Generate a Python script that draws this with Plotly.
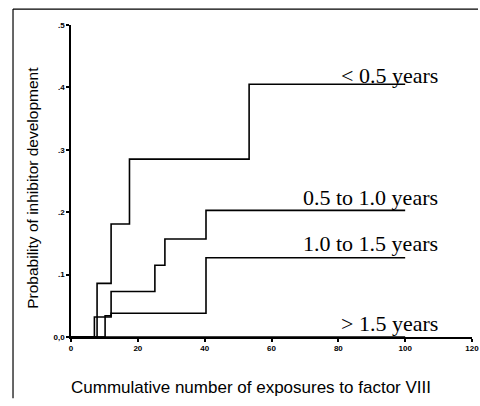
import plotly.graph_objects as go

# Step curves (x = cumulative exposures, y = probability)
lt05_x = [0, 7.8, 12, 17.5, 53.3, 100]
lt05_y = [0, 0.086, 0.181, 0.285, 0.405, 0.405]

g05_10_x = [0, 7.0, 12, 25.1, 28.1, 40.4, 100]
g05_10_y = [0, 0.032, 0.073, 0.115, 0.157, 0.203, 0.203]

g10_15_x = [0, 10.2, 12, 40.4, 100]
g10_15_y = [0, 0.034, 0.038, 0.127, 0.127]

gt15_x = [0, 100]
gt15_y = [0, 0]

series = [
    ("< 0.5 years", lt05_x, lt05_y),
    ("0.5 to 1.0 years", g05_10_x, g05_10_y),
    ("1.0 to 1.5 years", g10_15_x, g10_15_y),
    ("> 1.5 years", gt15_x, gt15_y),
]

label_text = ["< 0.5 years", "0.5 to 1.0 years", "1.0 to 1.5 years", "> 1.5 years"]
label_y = [0.419, 0.224, 0.150, 0.021]

y_tickvals = [0, 0.1, 0.2, 0.3, 0.4, 0.5]
y_ticktext = ["0,0", ".1", ".2", ".3", ".4", ".5"]
x_tickvals = [0, 20, 40, 60, 80, 100, 120]
x_ticktext = ["0", "20", "40", "60", "80", "100", "120"]

fig = go.Figure()
for name, xs, ys in series:
    fig.add_trace(go.Scatter(x=xs, y=ys, mode="lines", name=name,
                             line=dict(shape="hv", color="black", width=1.6),
                             showlegend=False, hoverinfo="skip"))

for t, yv in zip(label_text, label_y):
    fig.add_annotation(x=110.5, y=yv, xref="x", yref="y", text=t, showarrow=False,
                       xanchor="right", yanchor="middle",
                       font=dict(family="Liberation Serif", size=22, color="black"))

fig.add_annotation(x=0.449, xref="paper", y=-0.163, yref="paper",
                   text="Cummulative number of exposures to factor VIII", showarrow=False,
                   xanchor="center", yanchor="middle",
                   font=dict(family="Liberation Sans", size=17, color="black"))
fig.add_annotation(x=-0.095, xref="paper", y=0.478, yref="paper",
                   text="Probability of inhibitor development", showarrow=False,
                   textangle=-90, xanchor="center", yanchor="middle",
                   font=dict(family="Liberation Sans", size=15.5, color="black"))

# outer frame (top and left lines)
fig.add_shape(type="line", xref="paper", yref="paper", x0=-0.1446, x1=1.015, y0=1.051, y1=1.051,
              line=dict(color="black", width=1.2))
fig.add_shape(type="line", xref="paper", yref="paper", x0=-0.1446, x1=-0.1446, y0=-0.196, y1=1.051,
              line=dict(color="black", width=1.2))

fig.update_xaxes(range=[0, 120], tickvals=x_tickvals, ticktext=x_ticktext, automargin=False,
                 showgrid=False, zeroline=False, showline=True, linecolor="black", linewidth=1.5,
                 ticks="outside", ticklen=3, tickwidth=2, tickcolor="black",
                 tickfont=dict(family="Liberation Sans", size=8, color="black", weight="bold"))
fig.update_yaxes(range=[0, 0.5], tickvals=y_tickvals, ticktext=y_ticktext, automargin=False,
                 showgrid=False, zeroline=False, showline=True, linecolor="black", linewidth=1.5,
                 ticks="outside", ticklen=3, tickwidth=2, tickcolor="black",
                 tickfont=dict(family="Liberation Sans", size=8, color="black", weight="bold"))

fig.update_layout(width=480, height=406, margin=dict(l=71, r=8, t=25, b=69),
                  paper_bgcolor="white", plot_bgcolor="white")

fig.write_html("out.html", config={"displayModeBar": False},
               post_script="document.body.style.margin='0';document.body.style.overflow='hidden';")
